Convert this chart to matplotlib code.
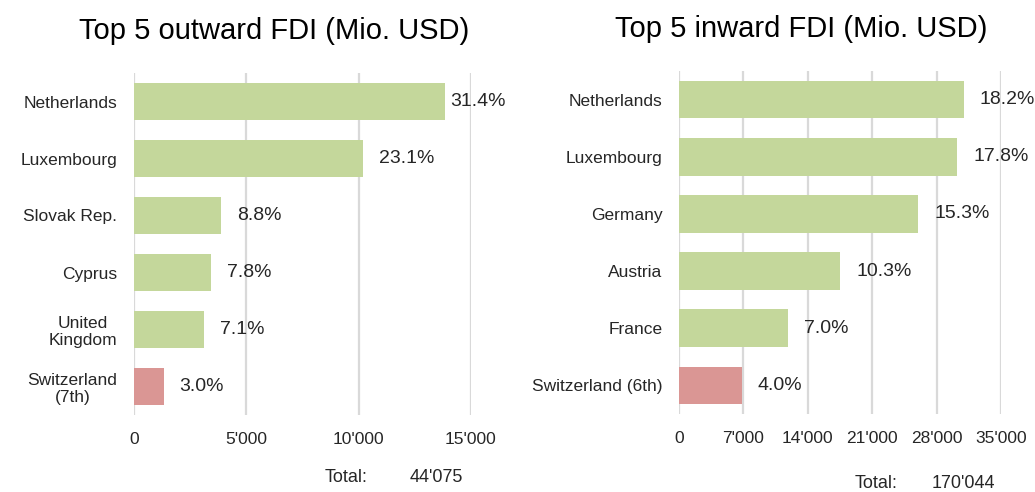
import numpy as np
import matplotlib.pyplot as plt
import matplotlib.transforms as mtransforms

plt.rcParams["font.family"] = ["Liberation Sans", "DejaVu Sans"]

# Outward FDI (Mio. USD), top 5 + Switzerland
out_countries = ["Netherlands", "Luxembourg", "Slovak Rep.", "Cyprus",
                 "United\nKingdom", "Switzerland\n(7th)"]
out_values = [13840, 10180, 3880, 3440, 3130, 1320]
out_pct = [31.4, 23.1, 8.8, 7.8, 7.1, 3.0]
out_ticks = [0, 5000, 10000, 15000]
out_total = 44075

# Inward FDI (Mio. USD), top 5 + Switzerland
in_countries = ["Netherlands", "Luxembourg", "Germany", "Austria",
                "France", "Switzerland (6th)"]
in_values = [30950, 30270, 26020, 17510, 11900, 6800]
in_pct = [18.2, 17.8, 15.3, 10.3, 7.0, 4.0]
in_ticks = [0, 7000, 14000, 21000, 28000, 35000]
in_total = 170044

GREEN = "#C4D79B"
RED = "#DA9694"
GRID = "#D9D9D9"
TXT = "#262626"

W, H = 1035, 492
fig = plt.figure(figsize=(W / 100, H / 100), dpi=100)
ax1 = fig.add_axes([134 / W, 77 / H, 337 / W, 342 / H])
ax2 = fig.add_axes([679 / W, 78 / H, 322 / W, 343 / H])


def fmt(v):
    return f"{v:,}".replace(",", "'")


def draw(ax, countries, values, pct, ticks):
    n = len(countries)
    y = np.arange(n)
    colors = [GREEN] * (n - 1) + [RED]
    ax.barh(y, values, height=0.66, color=colors, zorder=2)
    ax.set_ylim(n - 0.5, -0.5)
    ax.set_xlim(0, ticks[-1])
    ax.set_xticks(ticks, [fmt(t) for t in ticks])
    ax.set_yticks(y, countries)
    for lbl in ax.get_yticklabels():
        lbl.set_multialignment("center")
        lbl.set_linespacing(1.15)
    ax.grid(axis="x", color=GRID, lw=1.6, zorder=0)
    ax.grid(axis="y", visible=False)
    ax.set_axisbelow(True)
    for s in ax.spines.values():
        s.set_visible(False)
    ax.tick_params(axis="y", length=0, pad=12, labelsize=12.5, colors=TXT)
    ax.tick_params(axis="x", length=0, pad=12, labelsize=12.5, colors=TXT)

    off = mtransforms.offset_copy(ax.transData, fig=fig, x=16, y=0, units="dots")
    texts = []
    for yi, v, p in zip(y, values, pct):
        t = ax.text(v, yi, f"{p:.1f}%", transform=off, ha="left", va="center",
                    fontsize=14, color=TXT, clip_on=False)
        texts.append(t)
    return texts


labels1 = draw(ax1, out_countries, out_values, out_pct, out_ticks)
labels2 = draw(ax2, in_countries, in_values, in_pct, in_ticks)

# keep value labels inside the chart area (clamp at right edge)
fig.canvas.draw()
renderer = fig.canvas.get_renderer()
for ax, texts in [(ax1, labels1), (ax2, labels2)]:
    limit = ax.bbox.x1 + 35
    xtr = mtransforms.offset_copy(ax.transAxes, fig=fig, x=35, y=0, units="dots")
    for t in texts:
        bb = t.get_window_extent(renderer)
        if bb.x1 > limit:
            yv = t.get_position()[1]
            t.set_transform(mtransforms.blended_transform_factory(xtr, ax.transData))
            t.set_position((1.0, yv))
            t.set_ha("right")

fig.text(274 / W, 1 - 31 / H, "Top 5 outward FDI (Mio. USD)", ha="center",
         va="center", fontsize=21, color="black")
fig.text(801 / W, 1 - 29 / H, "Top 5 inward FDI (Mio. USD)", ha="center",
         va="center", fontsize=21, color="black")

fig.text(325 / W, 1 - 477 / H, "Total:", ha="left", va="center",
         fontsize=13, color=TXT)
fig.text(463 / W, 1 - 477 / H, fmt(out_total), ha="right", va="center",
         fontsize=13, color=TXT)
fig.text(855 / W, 1 - 483 / H, "Total:", ha="left", va="center",
         fontsize=13, color=TXT)
fig.text(995 / W, 1 - 483 / H, fmt(in_total), ha="right", va="center",
         fontsize=13, color=TXT)

fig.savefig("out.png", dpi=100)
